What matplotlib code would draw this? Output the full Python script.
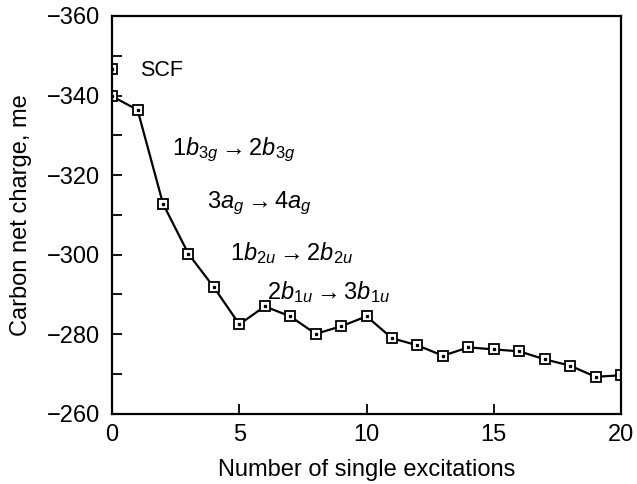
import numpy as np
import matplotlib.pyplot as plt
from matplotlib.ticker import MultipleLocator

plt.rcParams['font.family'] = 'Liberation Sans'
plt.rcParams['mathtext.fontset'] = 'custom'
plt.rcParams['mathtext.rm'] = 'Liberation Sans'
plt.rcParams['mathtext.it'] = 'Liberation Sans:italic'

# Data
n_excitations = np.arange(0, 21)
net_charge = [-339.8, -336.4, -312.8, -300.2, -291.8, -282.5, -287.0, -284.5,
              -280.1, -282.0, -284.5, -279.0, -277.2, -274.6, -276.7, -276.2,
              -275.7, -273.7, -272.1, -269.3, -269.7]
scf_x = [0]
scf_charge = [-346.7]

labels = [r'$\mathrm{1}b_{\mathrm{3}g}\rightarrow \mathrm{2}b_{\mathrm{3}g}$',
          r'$\mathrm{3}a_{g}\rightarrow \mathrm{4}a_{g}$',
          r'$\mathrm{1}b_{\mathrm{2}u}\rightarrow \mathrm{2}b_{\mathrm{2}u}$',
          r'$\mathrm{2}b_{\mathrm{1}u}\rightarrow \mathrm{3}b_{\mathrm{1}u}$']
label_x = [2.35, 3.72, 4.64, 6.08]
label_y = [-326.3, -313.0, -300.4, -290.7]

fig = plt.figure(figsize=(6.37, 4.84), dpi=100)
ax = fig.add_axes([0.176, 0.145, 0.799, 0.822])

mk = dict(marker='s', markersize=6.6, markerfacecolor='white',
          markeredgecolor='black', markeredgewidth=1.3, color='black')
ax.plot(n_excitations, net_charge, linewidth=1.6, **mk)
ax.plot(n_excitations, net_charge, linestyle='none', marker='s',
        markersize=1.4, color='black')
ax.plot(scf_x, scf_charge, linestyle='none', **mk)
ax.plot(scf_x, scf_charge, linestyle='none', marker='s', markersize=1.4,
        color='black')

ax.text(1.1, -346.2, 'SCF', fontsize=15.5, va='center', ha='left')
for lx, ly, txt in zip(label_x, label_y, labels):
    ax.text(lx, ly, txt, fontsize=17, va='center', ha='left')

ax.set_xlim(0, 20)
ax.set_ylim(-260, -360)
ax.xaxis.set_major_locator(MultipleLocator(5))
ax.yaxis.set_major_locator(MultipleLocator(20))
ax.yaxis.set_minor_locator(MultipleLocator(10))
ax.tick_params(axis='both', which='both', direction='in', labelsize=17,
               width=1.3, top=False, right=False)
ax.tick_params(axis='both', which='major', length=7)
ax.tick_params(axis='y', which='minor', length=7)
ax.tick_params(axis='x', pad=7)
ax.tick_params(axis='y', pad=9)
for s in ax.spines.values():
    s.set_linewidth(1.6)

ax.set_xlabel('Number of single excitations', fontsize=17, labelpad=10)
ax.set_ylabel('Carbon net charge, me', fontsize=17, labelpad=10)

fig.savefig('out.png', dpi=100)
